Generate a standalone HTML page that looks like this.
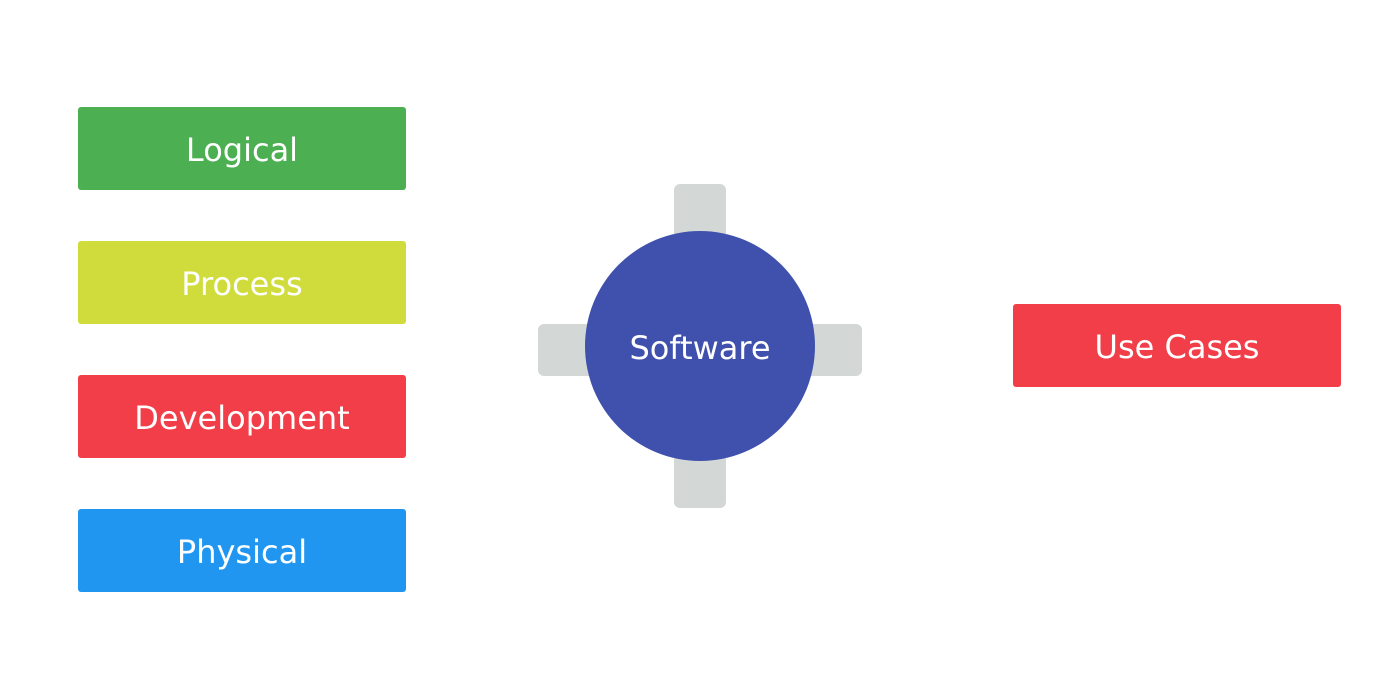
<!DOCTYPE html>
<html><head><style>
body{margin:0;width:1400px;height:700px;background:#fff;position:relative;overflow:hidden;font-family:"DejaVu Sans","Liberation Sans",sans-serif}
.b{position:absolute;width:328px;height:83px;border-radius:3px;color:#fff;font-size:32px;display:flex;align-items:center;justify-content:center;padding-top:3px;box-sizing:border-box}
.g{position:absolute;background:#d3d8d7;border-radius:6px}
</style></head><body>
<div class="b" style="left:78px;top:107px;background:#4caf52">Logical</div>
<div class="b" style="left:78px;top:241px;background:#cfdc3c">Process</div>
<div class="b" style="left:78px;top:375px;background:#f23e48">Development</div>
<div class="b" style="left:78px;top:509px;background:#2196f0">Physical</div>
<div class="b" style="left:1013px;top:304px;background:#f23e48">Use Cases</div>
<div class="g" style="left:674px;top:184px;width:52px;height:100px"></div>
<div class="g" style="left:674px;top:408px;width:52px;height:100px"></div>
<div class="g" style="left:538px;top:324px;width:100px;height:52px"></div>
<div class="g" style="left:762px;top:324px;width:100px;height:52px"></div>
<div style="position:absolute;left:585px;top:231px;width:230px;height:230px;border-radius:50%;background:#3f51ad;color:#fff;font-size:32px;display:flex;align-items:center;justify-content:center;padding-top:3px;box-sizing:border-box">Software</div>
</body></html>
